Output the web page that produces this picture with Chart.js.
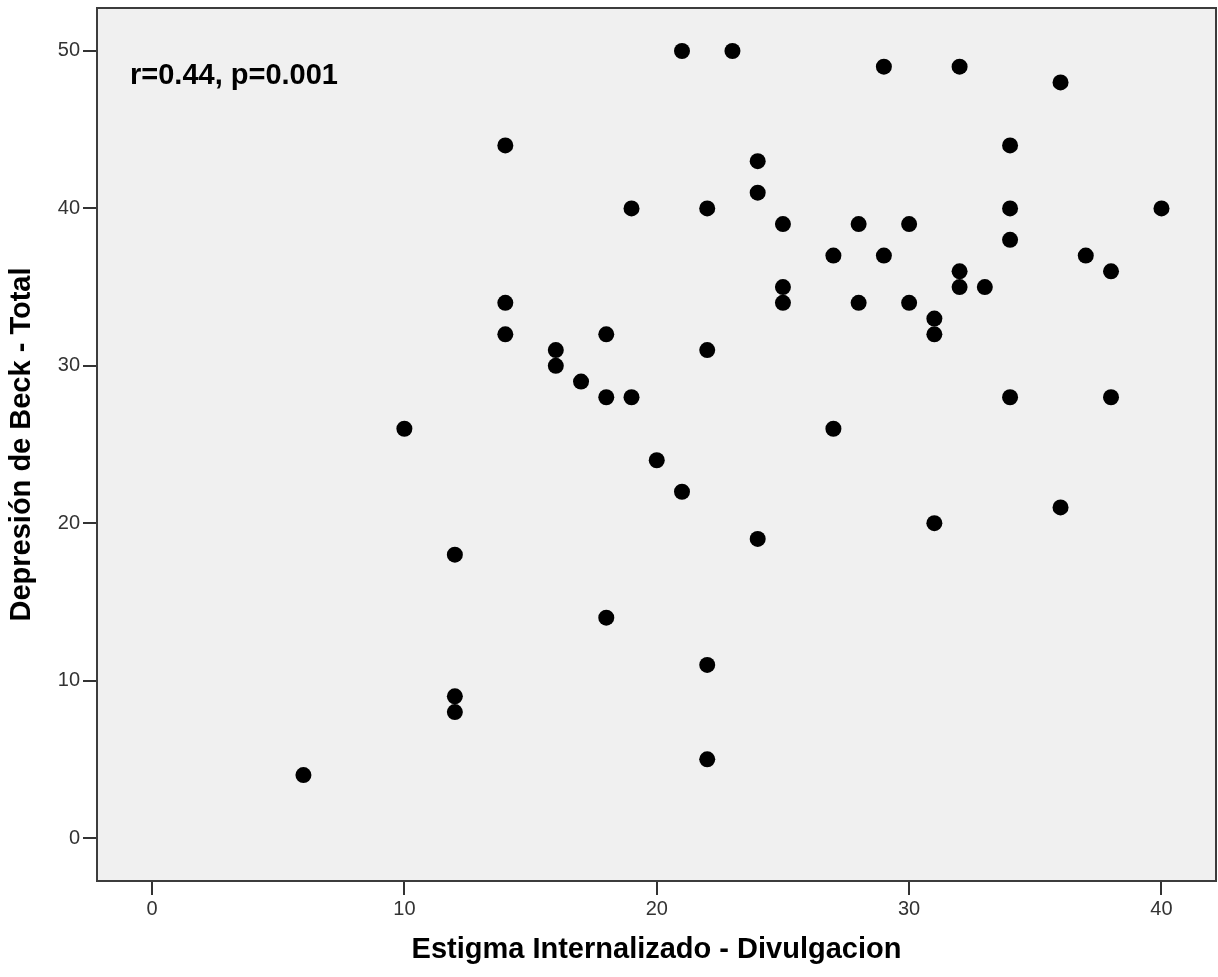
<!DOCTYPE html>
<html lang="es">
<head>
    <meta charset="UTF-8">
    <title>Estigma vs Depresión</title>
    <script src="https://cdn.jsdelivr.net/npm/chart.js"></script>
    <style>
        html, body { margin: 0; padding: 0; background: #fff; overflow: hidden; }
        canvas { display: block; }
    </style>
</head>
<body>
<canvas id="scatter" width="1218" height="977"></canvas>

<script>
    // Estigma Internalizado - Divulgacion (x) vs Depresión de Beck - Total (y)
    const estigma = [6, 10, 12, 12, 12, 14, 14, 14, 16, 16, 17, 18, 18, 18, 19, 19, 20, 21, 21,
                     22, 22, 22, 22, 23, 24, 24, 24, 25, 25, 25, 27, 27, 28, 28, 29, 29, 30, 30,
                     31, 31, 31, 32, 32, 32, 33, 34, 34, 34, 34, 36, 36, 37, 38, 38, 40];
    const beck    = [4, 26, 18, 9, 8, 44, 34, 32, 31, 30, 29, 32, 28, 14, 40, 28, 24, 50, 22,
                     40, 31, 11, 5, 50, 43, 41, 19, 39, 35, 34, 37, 26, 39, 34, 49, 37, 39, 34,
                     33, 32, 20, 49, 36, 35, 35, 44, 40, 38, 28, 48, 21, 37, 36, 28, 40];
    const xTicks = [0, 10, 20, 30, 40];
    const yTicks = [0, 10, 20, 30, 40, 50];
    const annotation = "r=0.44, p=0.001";

    const points = estigma.map((x, i) => ({ x: x, y: beck[i] }));

    // grey plot background + frame + correlation note
    const frame = {
        id: 'frame',
        beforeDraw(chart) {
            const { ctx, chartArea: a } = chart;
            ctx.save();
            ctx.fillStyle = '#f0f0f0';
            ctx.fillRect(a.left, a.top, a.right - a.left, a.bottom - a.top);
            ctx.restore();
        },
        afterDraw(chart) {
            const { ctx, chartArea: a } = chart;
            ctx.save();
            ctx.strokeStyle = '#3c3c3c';
            ctx.lineWidth = 2;
            ctx.strokeRect(a.left, a.top, a.right - a.left, a.bottom - a.top);
            ctx.fillStyle = '#000';
            ctx.font = 'bold 29px "Liberation Sans", Arial, sans-serif';
            ctx.textBaseline = 'alphabetic';
            ctx.fillText(annotation, a.left + 33, a.top + 76);
            ctx.restore();
        }
    };

    const tickFont = { family: '"Liberation Sans", Arial, sans-serif', size: 20 };
    const titleFont = { family: '"Liberation Sans", Arial, sans-serif', size: 29, weight: 'bold' };

    new Chart(document.getElementById('scatter'), {
        type: 'scatter',
        data: {
            datasets: [{
                data: points,
                backgroundColor: '#000',
                borderWidth: 0,
                pointRadius: 8,
                pointHoverRadius: 8
            }]
        },
        options: {
            responsive: false,
            animation: false,
            events: [],
            layout: { autoPadding: false, padding: { top: 8, right: 2, left: 0, bottom: 0 } },
            plugins: { legend: { display: false }, tooltip: { enabled: false } },
            scales: {
                x: {
                    type: 'linear',
                    min: -2.18,
                    max: 42.16,
                    afterBuildTicks: s => { s.ticks = xTicks.map(v => ({ value: v })); },
                    afterFit: s => { s.height = 96; s.paddingLeft = 0; s.paddingRight = 0; },
                    ticks: { color: '#333', font: tickFont, padding: 2, maxRotation: 0 },
                    grid: { drawOnChartArea: false, drawTicks: true, tickLength: 14, tickColor: '#333', lineWidth: 2 },
                    border: { display: false },
                    title: {
                        display: true,
                        text: 'Estigma Internalizado - Divulgacion',
                        color: '#000',
                        font: titleFont,
                        padding: { top: 0, bottom: 10 }
                    }
                },
                y: {
                    type: 'linear',
                    min: -2.73,
                    max: 52.73,
                    afterBuildTicks: s => { s.ticks = yTicks.map(v => ({ value: v })); },
                    afterFit: s => { s.width = 97; s.paddingTop = 0; s.paddingBottom = 0; },
                    ticks: { color: '#333', font: tickFont, padding: 3 },
                    grid: { drawOnChartArea: false, drawTicks: true, tickLength: 14, tickColor: '#333', lineWidth: 2 },
                    border: { display: false },
                    title: {
                        display: true,
                        text: 'Depresión de Beck - Total',
                        color: '#000',
                        font: titleFont,
                        padding: { top: 5, bottom: 0 }
                    }
                }
            }
        },
        plugins: [frame]
    });
</script>
</body>
</html>
